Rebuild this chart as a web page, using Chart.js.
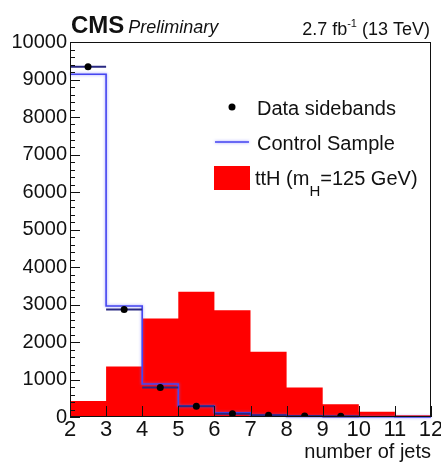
<!DOCTYPE html>
<html>
<head>
<meta charset="utf-8">
<script src="https://cdn.jsdelivr.net/npm/chart.js@4/dist/chart.umd.min.js"></script>
<style>
  html, body { margin: 0; padding: 0; background: #fff; overflow: hidden; }
  canvas { display: block; }
</style>
</head>
<body>
<canvas id="c" width="441" height="464"></canvas>
<script>
// Jet multiplicity: bin edges and per-bin contents
const binEdges = [2, 3, 4, 5, 6, 7, 8, 9, 10, 11, 12];
const ttHValues = [430, 1350, 2630, 3340, 2850, 1740, 790, 340, 140, 50];
const controlValues = [9140, 2960, 880, 290, 115, 45, 15, 10, 5, 3];
const dataCenters = [2.5, 3.5, 4.5, 5.5, 6.5, 7.5, 8.5, 9.5];
const dataValues = [9340, 2870, 790, 290, 90, 45, 25, 20];
const xTickValues = [2, 3, 4, 5, 6, 7, 8, 9, 10, 11, 12];
const yTickValues = [0, 1000, 2000, 3000, 4000, 5000, 6000, 7000, 8000, 9000, 10000];
const yMinorStep = 200;

const FONT = "'Liberation Sans', Arial, Helvetica, sans-serif";

// Histogram as a step line: one point per left edge, plus the closing right edge
function steps(values) {
  return binEdges.map((e, i) => ({ x: e, y: values[Math.min(i, values.length - 1)] }));
}
const halfWidth = (binEdges[1] - binEdges[0]) / 2;

const histoPlugin = {
  id: 'histoDecor',
  beforeDatasetDraw(chart, args) {
    const ds = chart.data.datasets[args.index];
    const ctx = chart.ctx;
    if (ds.glow) {
      ctx.save();
      ctx.shadowColor = 'rgba(110,110,255,0.75)';
      ctx.shadowBlur = 3;
    }
    if (ds.xErrors) {
      // horizontal bin-width bars under the data points
      const xs = chart.scales.x, ys = chart.scales.y;
      ctx.save();
      ctx.strokeStyle = 'rgb(40,40,130)';
      ctx.lineWidth = 2;
      ds.data.forEach(p => {
        const y = ys.getPixelForValue(p.y);
        ctx.beginPath();
        ctx.moveTo(xs.getPixelForValue(p.x - halfWidth), y);
        ctx.lineTo(xs.getPixelForValue(p.x + halfWidth), y);
        ctx.stroke();
      });
      ctx.restore();
    }
  },
  afterDatasetDraw(chart, args) {
    const ds = chart.data.datasets[args.index];
    if (ds.glow) chart.ctx.restore();
  },
  afterDatasetsDraw(chart) {
    const { ctx, chartArea: a } = chart;
    const xs = chart.scales.x, ys = chart.scales.y;
    ctx.save();
    ctx.strokeStyle = '#111';
    ctx.lineWidth = 1;
    // frame
    ctx.strokeRect(a.left + 0.5, a.top + 0.5, a.right - a.left - 1, a.bottom - a.top - 1);
    // y ticks (inside)
    ctx.beginPath();
    for (let v = 0; v <= 10000; v += yMinorStep) {
      const y = Math.round(ys.getPixelForValue(v)) + 0.5;
      const len = (v % 1000 === 0) ? 10 : 5;
      ctx.moveTo(a.left, y);
      ctx.lineTo(a.left + len, y);
    }
    // x ticks (inside)
    xTickValues.forEach(v => {
      const x = Math.round(xs.getPixelForValue(v)) + 0.5;
      ctx.moveTo(x, a.bottom);
      ctx.lineTo(x, a.bottom - 11);
    });
    ctx.stroke();

    // legend
    const lx = 214;
    ctx.fillStyle = '#000';
    ctx.beginPath();
    ctx.arc(lx + 18, 107, 3.5, 0, Math.PI * 2);
    ctx.fill();
    ctx.save();
    ctx.shadowColor = 'rgba(110,110,255,0.75)';
    ctx.shadowBlur = 3;
    ctx.strokeStyle = 'rgb(70,70,240)';
    ctx.lineWidth = 1.5;
    ctx.beginPath();
    ctx.moveTo(lx + 1, 142);
    ctx.lineTo(lx + 35, 142);
    ctx.stroke();
    ctx.restore();
    ctx.fillStyle = '#ff0000';
    ctx.fillRect(lx, 166, 36, 24);

    ctx.fillStyle = '#111';
    ctx.textBaseline = 'alphabetic';
    ctx.textAlign = 'left';
    ctx.font = '20px ' + FONT;
    ctx.fillText(chart.data.datasets[0].label, 257, 115);
    ctx.fillText(chart.data.datasets[1].label, 257, 150);
    let tx = 255;
    ctx.fillText('ttH (m', tx, 185);
    tx += ctx.measureText('ttH (m').width;
    ctx.font = '15px ' + FONT;
    ctx.fillText('H', tx, 196);
    tx += ctx.measureText('H').width;
    ctx.font = '20px ' + FONT;
    ctx.fillText('=125 GeV)', tx, 185);

    // header
    ctx.font = 'bold 24px ' + FONT;
    ctx.fillText('CMS', 71, 33);
    const cmsW = ctx.measureText('CMS').width;
    ctx.font = 'italic 18px ' + FONT;
    ctx.fillText('Preliminary', 71 + cmsW + 4, 33);

    // luminosity label, right aligned
    const p1 = '2.7 fb', p2 = '-1', p3 = ' (13 TeV)';
    ctx.font = '18px ' + FONT;
    const w1 = ctx.measureText(p1).width, w3 = ctx.measureText(p3).width;
    ctx.font = '11px ' + FONT;
    const w2 = ctx.measureText(p2).width;
    let rx = 430 - (w1 + w2 + w3);
    ctx.font = '18px ' + FONT;
    ctx.fillText(p1, rx, 35);
    ctx.font = '11px ' + FONT;
    ctx.fillText(p2, rx + w1, 27);
    ctx.font = '18px ' + FONT;
    ctx.fillText(p3, rx + w1 + w2, 35);
    ctx.restore();
  }
};

new Chart(document.getElementById('c'), {
  type: 'line',
  data: {
    datasets: [
      {
        label: 'Data sidebands',
        data: dataCenters.map((x, i) => ({ x, y: dataValues[i] })),
        showLine: false,
        pointRadius: 3.5,
        pointBackgroundColor: '#000',
        pointBorderWidth: 0,
        xErrors: true,
        order: 0
      },
      {
        label: 'Control Sample',
        data: steps(controlValues),
        stepped: true,
        borderColor: 'rgb(70,70,240)',
        borderWidth: 1.6,
        pointRadius: 0,
        fill: false,
        clip: false,
        glow: true,
        order: 1
      },
      {
        label: 'ttH (m_H=125 GeV)',
        data: steps(ttHValues),
        stepped: true,
        borderWidth: 0,
        borderColor: '#ff0000',
        backgroundColor: '#ff0000',
        pointRadius: 0,
        fill: 'origin',
        order: 2
      }
    ]
  },
  options: {
    responsive: false,
    animation: false,
    devicePixelRatio: 1,
    layout: { padding: { top: 42, right: 10, left: 0, bottom: 0 } },
    plugins: { legend: { display: false }, tooltip: { enabled: false } },
    scales: {
      x: {
        type: 'linear',
        min: 2,
        max: 12,
        afterBuildTicks: s => { s.ticks = xTickValues.map(v => ({ value: v })); },
        ticks: { font: { family: FONT, size: 22 }, color: '#111', padding: 0, maxRotation: 0, autoSkip: false },
        grid: { display: false, drawTicks: false },
        border: { display: false },
        title: { display: true, text: 'number of jets', align: 'end', color: '#111', font: { family: FONT, size: 20 }, padding: { top: 0, bottom: 0 } },
        afterFit: s => { s.height = 47; s.paddingLeft = 0; s.paddingRight = 0; }
      },
      y: {
        type: 'linear',
        min: 0,
        max: 10000,
        afterBuildTicks: s => { s.ticks = yTickValues.map(v => ({ value: v })); },
        ticks: { font: { family: FONT, size: 20 }, color: '#111', padding: 3, callback: v => String(v) },
        grid: { display: false, drawTicks: false },
        border: { display: false },
        afterFit: s => { s.width = 70; s.paddingTop = 0; s.paddingBottom = 0; }
      }
    }
  },
  plugins: [histoPlugin]
});
</script>
</body>
</html>
